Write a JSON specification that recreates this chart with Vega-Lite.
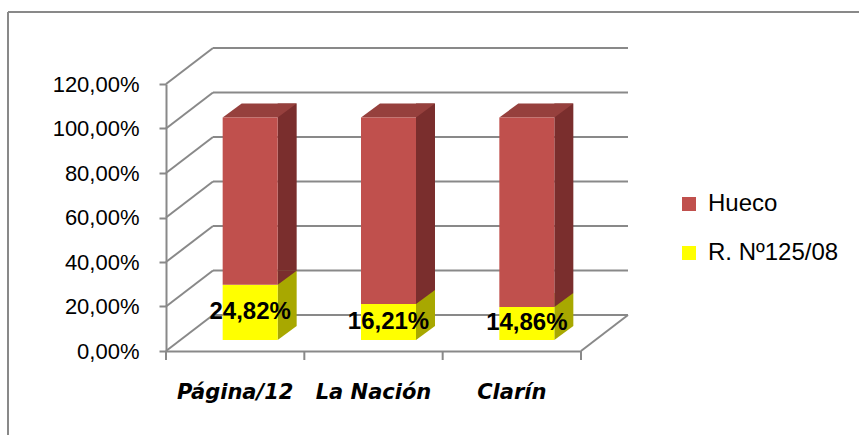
{
  "$schema": "https://vega.github.io/schema/vega-lite/v6.json",
  "width": 415,
  "height": 267,
  "autosize": {"type": "none"},
  "padding": {"left": 166, "top": 84, "right": 278, "bottom": 84},
  "background": "white",
  "config": {
    "view": {"stroke": null},
    "font": "Liberation Sans",
    "locale": {"number": {"decimal": ",", "thousands": ".", "grouping": [3], "currency": ["", " €"]}}
  },
  "datasets": {
    "medios": [
      {"medio": "Página/12", "serie": "R. Nº125/08", "valor": 0.2482},
      {"medio": "Página/12", "serie": "Hueco", "valor": 0.7518},
      {"medio": "La Nación", "serie": "R. Nº125/08", "valor": 0.1621},
      {"medio": "La Nación", "serie": "Hueco", "valor": 0.8379},
      {"medio": "Clarín", "serie": "R. Nº125/08", "valor": 0.1486},
      {"medio": "Clarín", "serie": "Hueco", "valor": 0.8514}
    ],
    "grilla": [{"t": 0}, {"t": 0.2}, {"t": 0.4}, {"t": 0.6}, {"t": 0.8}, {"t": 1.0}, {"t": 1.2}]
  },
  "layer": [
    {
      "data": {"name": "grilla"},
      "mark": {"type": "rule", "color": "#898989", "strokeWidth": 2, "xOffset": 47, "x2Offset": 47, "yOffset": -36},
      "encoding": {
        "y": {
          "field": "t", "type": "quantitative",
          "scale": {"domain": [0, 1.2], "nice": false, "zero": true},
          "axis": {
            "values": [0, 0.2, 0.4, 0.6, 0.8, 1.0, 1.2], "format": ".2%", "title": null, "grid": false,
            "labelFont": "Liberation Sans", "labelFontSize": 22, "labelColor": "#000000", "labelPadding": 20,
            "tickSize": 7, "tickColor": "#898989", "tickWidth": 2, "domainColor": "#898989", "domainWidth": 2
          }
        },
        "x": {
          "datum": "Página/12", "type": "nominal", "bandPosition": 0,
          "scale": {"type": "band", "domain": ["Página/12", "La Nación", "Clarín"], "paddingInner": 0, "paddingOuter": 0},
          "axis": {
            "title": null, "ticks": false, "labelAngle": 0, "labelFont": "DejaVu Sans", "labelFontStyle": "italic",
            "labelFontWeight": "bold", "labelFontSize": 21, "labelColor": "#000000", "labelPadding": 30,
            "domainColor": "#898989", "domainWidth": 2, "grid": false
          }
        },
        "x2": {"datum": "Clarín", "bandPosition": 1}
      }
    },
    {
      "data": {"name": "grilla"},
      "mark": {"type": "rule", "color": "#898989", "strokeWidth": 2, "x2Offset": 47, "y2Offset": -36},
      "encoding": {
        "y": {"field": "t", "type": "quantitative"},
        "y2": {"field": "t"},
        "x": {"datum": "Página/12", "type": "nominal", "bandPosition": 0},
        "x2": {"datum": "Página/12", "bandPosition": 0}
      }
    },
    {
      "data": {"name": "grilla"},
      "transform": [{"filter": "datum.t == 0"}],
      "mark": {"type": "rule", "color": "#898989", "strokeWidth": 2, "x2Offset": 47, "y2Offset": -36},
      "encoding": {
        "y": {"field": "t", "type": "quantitative"},
        "y2": {"field": "t"},
        "x": {"datum": "Clarín", "type": "nominal", "bandPosition": 1},
        "x2": {"datum": "Clarín", "bandPosition": 1}
      }
    },
    {
      "data": {"name": "grilla"},
      "transform": [{"filter": "datum.t == 0"}],
      "mark": {"type": "rule", "color": "#898989", "strokeWidth": 2, "y2Offset": 9},
      "encoding": {
        "y": {"field": "t", "type": "quantitative"},
        "y2": {"field": "t"},
        "x": {"datum": "Clarín", "type": "nominal", "bandPosition": 1}
      }
    },
    {
      "data": {"name": "grilla"},
      "transform": [{"filter": "datum.t == 1.2"}],
      "mark": {"type": "rule", "color": "#898989", "strokeWidth": 2, "xOffset": -158, "yOffset": -72, "y2Offset": 84},
      "encoding": {
        "y": {"field": "t", "type": "quantitative"},
        "y2": {"datum": 0},
        "x": {"datum": "Página/12", "type": "nominal", "bandPosition": 0}
      }
    },
    {
      "data": {"name": "grilla"},
      "transform": [{"filter": "datum.t == 1.2"}],
      "mark": {"type": "rule", "color": "#898989", "strokeWidth": 2, "xOffset": -158, "x2Offset": 278, "yOffset": -72},
      "encoding": {
        "y": {"field": "t", "type": "quantitative"},
        "x": {"datum": "Página/12", "type": "nominal", "bandPosition": 0},
        "x2": {"datum": "Clarín", "bandPosition": 1}
      }
    },
    {
      "data": {"name": "medios"},
      "transform": [
        {"stack": "valor", "groupby": ["medio"], "sort": [{"field": "serie", "order": "descending"}], "as": ["v0", "v1"]},
        {"calculate": "(datum.v0 + datum.v1) / 2", "as": "vm"}
      ],
      "layer": [
        {
          "transform": [{"filter": "datum.serie == 'Hueco'"}],
          "mark": {"type": "rule", "color": "#898989", "strokeWidth": 2, "y2Offset": 9},
          "encoding": {
            "x": {"field": "medio", "type": "nominal", "bandPosition": 0},
            "y": {"datum": 0, "type": "quantitative"},
            "y2": {"datum": 0}
          }
        },
        {
          "mark": {"type": "bar", "width": 19, "xOffset": 52, "yOffset": -25, "y2Offset": -25},
          "encoding": {
            "x": {"field": "medio", "type": "nominal"},
            "y": {"field": "v1", "type": "quantitative"},
            "y2": {"field": "v0"},
            "color": {"condition": {"test": "datum.serie == 'Hueco'", "value": "#7A2E2D"}, "value": "#A8A800"}
          }
        },
        {
          "mark": {"type": "point", "shape": "M0,0 L0,-14 L19,-14 Z", "size": 4, "filled": true, "opacity": 1, "strokeWidth": 0, "xOffset": 42.5, "yOffset": -11},
          "encoding": {
            "x": {"field": "medio", "type": "nominal"},
            "y": {"field": "v0", "type": "quantitative"},
            "color": {"condition": {"test": "datum.serie == 'Hueco'", "value": "#7A2E2D"}, "value": "#A8A800"}
          }
        },
        {
          "transform": [{"filter": "datum.serie == 'Hueco'"}],
          "mark": {"type": "point", "shape": "M0,0 L55,0 L74,-14 L19,-14 Z", "size": 4, "filled": true, "opacity": 1, "strokeWidth": 0, "xOffset": -12.5, "yOffset": -11, "color": "#96403D"},
          "encoding": {
            "x": {"field": "medio", "type": "nominal"},
            "y": {"field": "v1", "type": "quantitative"}
          }
        },
        {
          "mark": {"type": "bar", "width": 55, "xOffset": 15, "yOffset": -11, "y2Offset": -11},
          "encoding": {
            "x": {"field": "medio", "type": "nominal"},
            "y": {"field": "v1", "type": "quantitative"},
            "y2": {"field": "v0"},
            "color": {
              "field": "serie", "type": "nominal",
              "scale": {"domain": ["Hueco", "R. Nº125/08"], "range": ["#C0504D", "#FFFF00"]},
              "legend": {
                "title": null, "orient": "none", "legendX": 511, "legendY": 108,
                "symbolType": "square", "symbolSize": 196, "symbolStrokeWidth": 0,
                "labelFont": "Liberation Sans", "labelFontSize": 24, "labelColor": "#000000",
                "labelOffset": 7, "rowPadding": 25
              }
            }
          }
        },
        {
          "transform": [{"filter": "datum.serie != 'Hueco'"}],
          "mark": {"type": "text", "font": "Liberation Sans", "fontWeight": "bold", "fontSize": 24, "color": "#000000", "xOffset": 15, "yOffset": -11, "baseline": "middle", "align": "center"},
          "encoding": {
            "x": {"field": "medio", "type": "nominal"},
            "y": {"field": "vm", "type": "quantitative"},
            "text": {"field": "valor", "type": "quantitative", "format": ".2%"}
          }
        }
      ]
    }
  ]
}
